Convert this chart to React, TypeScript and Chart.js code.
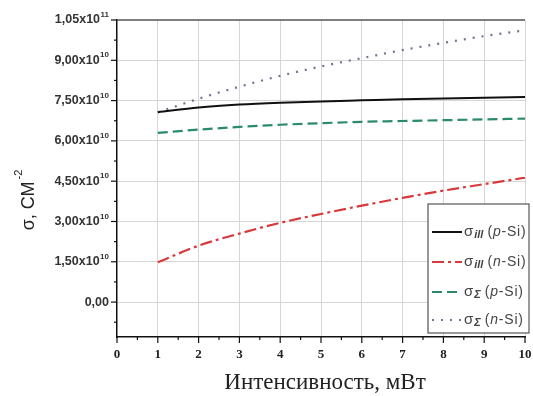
import React, { useEffect, useRef } from 'react';
import { Chart, registerables } from 'chart.js';

Chart.register(...registerables);

// ---- data ----
const intensity = [1, 2, 3, 4, 5, 6, 7, 8, 9, 10];
const sigmaIllP = [7.07e10, 7.24e10, 7.35e10, 7.42e10, 7.47e10, 7.51e10, 7.55e10, 7.58e10, 7.61e10, 7.63e10];
const sigmaIllN = [1.48e10, 2.1e10, 2.55e10, 2.95e10, 3.28e10, 3.59e10, 3.88e10, 4.15e10, 4.39e10, 4.63e10];
const sigmaSumP = [6.3e10, 6.42e10, 6.52e10, 6.6e10, 6.66e10, 6.71e10, 6.74e10, 6.77e10, 6.8e10, 6.83e10];
const sigmaSumN = [7.06e10, 7.57e10, 8.02e10, 8.42e10, 8.77e10, 9.08e10, 9.38e10, 9.65e10, 9.9e10, 10.12e10];

const seriesSub = ['ill', 'ill', 'Σ', 'Σ'];
const seriesType = ['p', 'n', 'p', 'n'];

const xTickValues = [0, 1, 2, 3, 4, 5, 6, 7, 8, 9, 10];
const xTickLabels = ['0', '1', '2', '3', '4', '5', '6', '7', '8', '9', '10'];
const yTickValues = [0, 1.5e10, 3.0e10, 4.5e10, 6.0e10, 7.5e10, 9.0e10, 1.05e11];
const yTickMain = ['0,00', '1,50x10', '3,00x10', '4,50x10', '6,00x10', '7,50x10', '9,00x10', '1,05x10'];
const yTickExp = ['', '10', '10', '10', '10', '10', '10', '11'];
const yMin = -1.3e10;
const yMax = 1.05e11;

const xTitle = 'Интенсивность, мВт';
const yTitleMain = 'σ, СМ';
const yTitleSup = '-2';

const colors = ['#111111', '#d8393c', '#2b8a6c', '#77708f'];
const dashes = [[], [12, 4, 3, 4], [10, 5], [2, 7]];

function pts(vals: number[]) {
  return intensity.map((x, i) => ({ x, y: vals[i] }));
}

const SANS = '"Liberation Sans", Arial, sans-serif';

const decorPlugin = {
  id: 'decor',
  afterDraw(chart: any) {
    const { ctx, chartArea: ca, scales } = chart;
    const xs = scales.x;
    const ys = scales.y;
    ctx.save();
    // top border
    ctx.strokeStyle = '#555';
    ctx.lineWidth = 1.5;
    ctx.beginPath();
    ctx.moveTo(ca.left, ca.top);
    ctx.lineTo(ca.right, ca.top);
    ctx.stroke();

    // tick marks
    ctx.strokeStyle = '#111';
    ctx.lineWidth = 1.2;
    const seg = (x1: number, y1: number, x2: number, y2: number) => {
      ctx.beginPath();
      ctx.moveTo(x1, y1);
      ctx.lineTo(x2, y2);
      ctx.stroke();
    };
    for (let i = 0; i < xTickValues.length; i++) {
      const px = xs.getPixelForValue(xTickValues[i]);
      seg(px, ca.bottom, px, ca.bottom + 6);
      if (i < xTickValues.length - 1) {
        const mx = xs.getPixelForValue((xTickValues[i] + xTickValues[i + 1]) / 2);
        seg(mx, ca.bottom, mx, ca.bottom + 3);
      }
    }
    const yStep = yTickValues[1] - yTickValues[0];
    for (let i = 0; i < yTickValues.length; i++) {
      const py = ys.getPixelForValue(yTickValues[i]);
      seg(ca.left - 6, py, ca.left, py);
      if (i < yTickValues.length - 1) {
        const my = ys.getPixelForValue((yTickValues[i] + yTickValues[i + 1]) / 2);
        seg(ca.left - 3, my, ca.left, my);
      }
    }
    const below = yTickValues[0] - yStep / 2;
    if (below >= yMin) {
      const py = ys.getPixelForValue(below);
      seg(ca.left - 3, py, ca.left, py);
    }

    // y tick labels with superscript exponent
    ctx.fillStyle = '#333';
    ctx.textBaseline = 'middle';
    ctx.textAlign = 'right';
    for (let i = 0; i < yTickValues.length; i++) {
      const py = ys.getPixelForValue(yTickValues[i]);
      const right = ca.left - 8;
      let expW = 0;
      if (yTickExp[i]) {
        ctx.font = 'bold 8px ' + SANS;
        expW = ctx.measureText(yTickExp[i]).width;
        ctx.fillText(yTickExp[i], right, py - 5);
      }
      ctx.font = 'bold 12.5px ' + SANS;
      ctx.fillText(yTickMain[i], right - expW - (expW ? 0.5 : 0), py);
    }

    // x title
    ctx.fillStyle = '#222';
    ctx.font = '23px "Liberation Serif", serif';
    ctx.textAlign = 'center';
    ctx.textBaseline = 'middle';
    ctx.fillText(xTitle, 325, 383);

    // y title (rotated)
    ctx.save();
    ctx.translate(29, 200);
    ctx.rotate(-Math.PI / 2);
    ctx.textBaseline = 'middle';
    ctx.font = '18px ' + SANS;
    const w1 = ctx.measureText(yTitleMain).width;
    ctx.font = '11px ' + SANS;
    const w2 = ctx.measureText(yTitleSup).width;
    const start = -(w1 + w2 + 2) / 2;
    ctx.textAlign = 'left';
    ctx.font = '18px ' + SANS;
    ctx.fillText(yTitleMain, start, 0);
    ctx.font = '11px ' + SANS;
    ctx.fillText(yTitleSup, start + w1 + 2, -10);
    ctx.restore();

    // legend
    const lx = 428, ly = 204, lw = 101, lh = 129;
    ctx.fillStyle = '#ffffff';
    ctx.fillRect(lx, ly, lw, lh);
    ctx.strokeStyle = '#555';
    ctx.lineWidth = 1.2;
    ctx.strokeRect(lx, ly, lw, lh);
    const rows = [232, 262, 292, 320];
    for (let i = 0; i < 4; i++) {
      const yy = rows[i];
      ctx.strokeStyle = colors[i];
      ctx.lineWidth = i === 0 ? 2 : 2.2;
      ctx.setLineDash(dashes[i]);
      seg(432, yy, 462, yy);
      ctx.setLineDash([]);
      ctx.fillStyle = '#444';
      ctx.textAlign = 'left';
      ctx.textBaseline = 'middle';
      let x = 464;
      ctx.font = '15px ' + SANS;
      ctx.fillText('σ', x, yy);
      x += ctx.measureText('σ').width + 1;
      ctx.font = 'italic bold 11px ' + SANS;
      ctx.fillText(seriesSub[i], x, yy + 3);
      x += ctx.measureText(seriesSub[i]).width + 4;
      ctx.letterSpacing = '0.8px';
      ctx.font = '14px ' + SANS;
      ctx.fillText('(', x, yy);
      x += ctx.measureText('(').width;
      ctx.font = 'italic 14px ' + SANS;
      ctx.fillText(seriesType[i], x, yy);
      x += ctx.measureText(seriesType[i]).width;
      ctx.font = '14px ' + SANS;
      ctx.fillText('-Si)', x, yy);
      ctx.letterSpacing = '0px';
    }
    ctx.restore();
  },
};

export default function App() {
  const ref = useRef<HTMLCanvasElement | null>(null);
  useEffect(() => {
    if (!ref.current) return;
    const data = [sigmaIllP, sigmaIllN, sigmaSumP, sigmaSumN];
    const chart = new Chart(ref.current, {
      type: 'line',
      data: {
        datasets: data.map((vals, i) => ({
          label: 'σ' + seriesSub[i] + ' (' + seriesType[i] + '-Si)',
          data: pts(vals),
          borderColor: colors[i],
          borderWidth: i === 0 ? 2 : 2.2,
          borderDash: dashes[i],
          pointRadius: 0,
          fill: false,
          cubicInterpolationMode: 'monotone' as const,
        })),
      },
      options: {
        responsive: false,
        animation: false,
        layout: { padding: { top: 20, right: 8, left: 0, bottom: 0 } },
        plugins: { legend: { display: false }, tooltip: { enabled: false } },
        scales: {
          x: {
            type: 'linear',
            min: 0,
            max: 10,
            afterBuildTicks: (s: any) => {
              s.ticks = xTickValues.map((v) => ({ value: v }));
            },
            afterFit: (s: any) => {
              s.height = 59;
              s.paddingLeft = 0;
              s.paddingRight = 0;
            },
            ticks: {
              autoSkip: false,
              maxRotation: 0,
              padding: 10,
              color: '#222',
              font: { family: '"Liberation Serif", serif', size: 13, weight: 'bold' },
              callback: (v: any) => {
                const i = xTickValues.indexOf(Number(v));
                return i >= 0 ? xTickLabels[i] : '';
              },
            },
            grid: {
              drawTicks: false,
              color: (c: any) => (c.tick && c.tick.value > 0 ? '#d6d6d6' : 'rgba(0,0,0,0)'),
              lineWidth: 1,
            },
            border: { display: true, color: '#111', width: 1.5 },
          },
          y: {
            type: 'linear',
            min: yMin,
            max: yMax,
            afterBuildTicks: (s: any) => {
              s.ticks = yTickValues.map((v) => ({ value: v }));
            },
            afterFit: (s: any) => {
              s.width = 117;
              s.paddingTop = 0;
              s.paddingBottom = 0;
            },
            ticks: { display: false },
            grid: {
              drawTicks: false,
              color: (c: any) =>
                c.tick && c.tick.value >= 0 && c.tick.value < yMax - 1e6 ? '#d6d6d6' : 'rgba(0,0,0,0)',
              lineWidth: 1,
            },
            border: { display: true, color: '#111', width: 1.5 },
          },
        },
      },
      plugins: [decorPlugin],
    } as any);
    return () => chart.destroy();
  }, []);
  return (
    <div style={{ position: 'absolute', left: 0, top: 0, width: 533, height: 396, background: '#fff' }}>
      <canvas ref={ref} width={533} height={396} style={{ display: 'block' }} />
    </div>
  );
}
